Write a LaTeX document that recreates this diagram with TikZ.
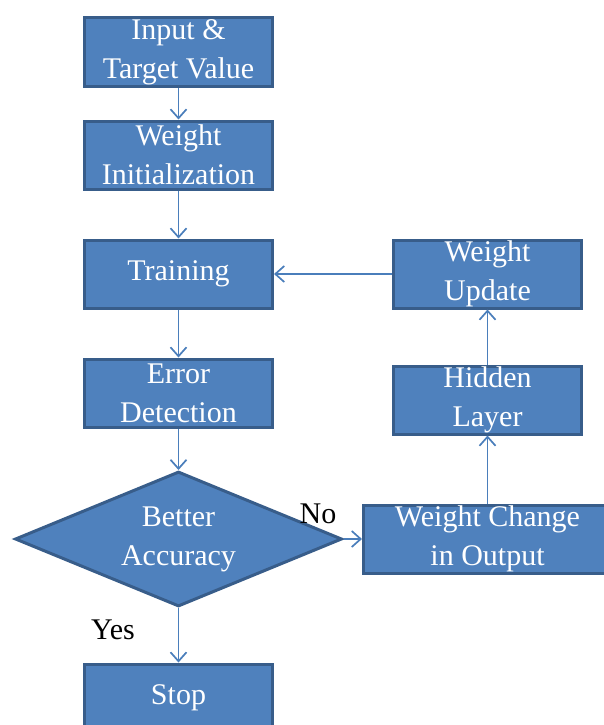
\documentclass[tikz,border=0pt]{standalone}
\usepackage{fontspec}
\setmainfont{Liberation Serif}
\usetikzlibrary{shapes.geometric,arrows.meta}
\definecolor{BoxFill}{HTML}{4F81BD}
\definecolor{BoxEdge}{HTML}{385D8A}
\definecolor{Wire}{HTML}{4A7EBB}

\begin{document}
\begin{tikzpicture}[x=1pt,y=-1pt,every node/.style={font=\fontsize{30}{39}\selectfont},box/.style={draw=BoxEdge,fill=BoxFill,line width=3pt,text=white,align=center,inner sep=0pt,minimum width=188pt,minimum height=68pt},decision/.style={diamond,draw=BoxEdge,fill=BoxFill,line width=3pt,text=white,align=center,inner sep=0pt,aspect=2.4,minimum width=327pt,minimum height=135pt},link/.style={draw=Wire,line width=1.7pt,-{Straight Barb[length=9pt,width=16pt]}}]
\useasboundingbox (0,0) rectangle (604,725);

\node[box] (input) at (178.5,52) {Input \&\\Target Value};
\node[box] (init) at (178.5,155) {Weight\\Initialization};
\node[box] (training) at (178.5,274) {Training};
\node[box] (error) at (178.5,393) {Error\\Detection};
\node[decision] (better) at (178.5,539) {Better\\Accuracy};
\node[box] (stop) at (178.5,698) {Stop};
\node[box] (update) at (487.5,274) {Weight\\Update};
\node[box] (hidden) at (487.5,400) {Hidden\\Layer};
\node[box,minimum width=248pt] (change) at (487.5,539) {Weight Change\\in Output};
\node (no) at (318,514) {No};\node (yes) at (113,630) {Yes};

\draw[link] (input)--(init);\draw[link] (init)--(training);\draw[link] (training)--(error);\draw[link] (error)--(better);\draw[link] (better)--(stop);
\draw[link] (better.east)--(change.west);\draw[link] (change)--(hidden);\draw[link] (hidden)--(update);\draw[link] (update)--(training);
\end{tikzpicture}
\end{document}
